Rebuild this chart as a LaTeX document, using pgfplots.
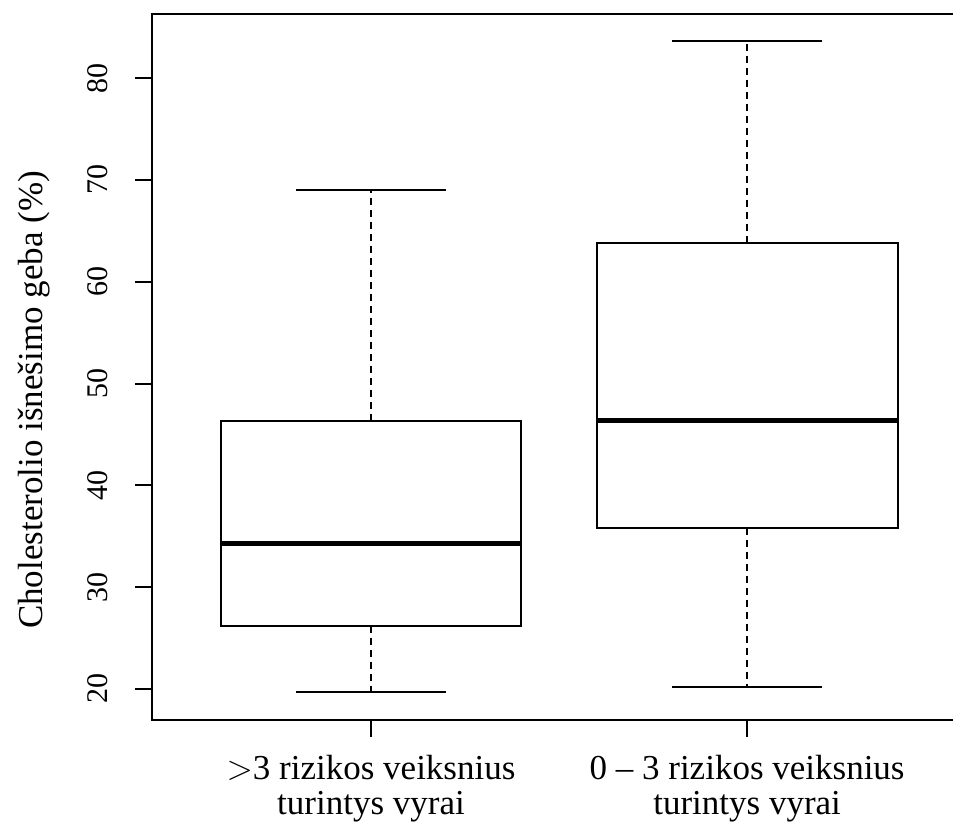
\documentclass[border=0pt]{standalone}
\usepackage{pgfplots}
\pgfplotsset{compat=1.18}
\usepackage{fontspec}
\setmainfont{Liberation Serif}
\begin{document}
\begin{tikzpicture}
\begin{axis}[
  scale only axis,
  width=404pt, height=353pt,
  xmin=0.4176, xmax=2.566,
  ymin=16.956, ymax=86.29,
  axis line style={black, line width=1pt},
  xtick={1,2},
  xticklabels={{$>$3 rizikos veiksnius\\turintys vyrai},{0 – 3 rizikos veiksnius\\turintys vyrai}},
  ytick={20,30,40,50,60,70,80},
  tick pos=left,
  tick align=outside,
  major tick length=8.5pt,
  tick style={black, line width=1pt},
  /pgf/number format/assume math mode=true,
  xticklabel style={align=center, anchor=north, inner sep=0pt, font=\fontsize{17.5}{17.5}\selectfont, yshift=-9pt},
  yticklabel style={xshift=-13.5pt, rotate=90, anchor=south, inner sep=0pt, font=\fontsize{15}{15}\selectfont},
  ylabel={Cholesterolio išnešimo geba (\%)},
  every axis y label/.style={at={(axis description cs:-0.1349,0.4533)}, rotate=90, anchor=base, font=\fontsize{17.5}{17.5}\selectfont},
  line join=miter,
]
% group 1: >3 risk factors
\addplot[black, line width=1pt] coordinates {(0.6,26.2) (1.4,26.2) (1.4,46.3) (0.6,46.3)} -- cycle;
\addplot[black, line width=2.5pt] coordinates {(0.6,34.3) (1.4,34.3)};
\addplot[black, line width=1pt, dash pattern=on 3.5pt off 2.5pt] coordinates {(1,46.3) (1,69.0)};
\addplot[black, line width=1pt, dash pattern=on 3.5pt off 2.5pt] coordinates {(1,26.2) (1,19.7)};
\addplot[black, line width=1pt] coordinates {(0.8,69.0) (1.2,69.0)};
\addplot[black, line width=1pt] coordinates {(0.8,19.7) (1.2,19.7)};
% group 2: 0-3 risk factors
\addplot[black, line width=1pt] coordinates {(1.6,35.8) (2.4,35.8) (2.4,63.8) (1.6,63.8)} -- cycle;
\addplot[black, line width=2.5pt] coordinates {(1.6,46.4) (2.4,46.4)};
\addplot[black, line width=1pt, dash pattern=on 3.5pt off 2.5pt] coordinates {(2,63.8) (2,83.6)};
\addplot[black, line width=1pt, dash pattern=on 3.5pt off 2.5pt] coordinates {(2,35.8) (2,20.2)};
\addplot[black, line width=1pt] coordinates {(1.8,83.6) (2.2,83.6)};
\addplot[black, line width=1pt] coordinates {(1.8,20.2) (2.2,20.2)};
\end{axis}
\pgfresetboundingbox
\path[use as bounding box] (-76pt,-51.5pt) rectangle (400.5pt,360pt);
\end{tikzpicture}
\end{document}
